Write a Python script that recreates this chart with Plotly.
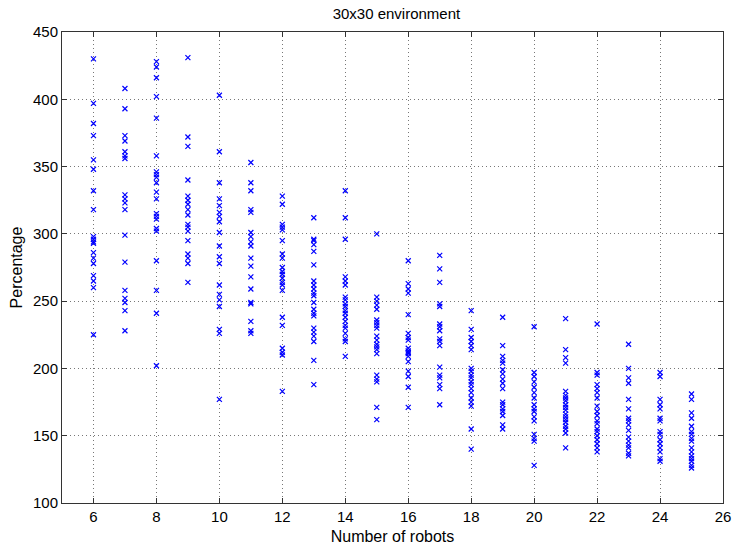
import plotly.graph_objects as go

robots = [6, 7, 8, 9, 10, 11, 12, 13, 14, 15, 16, 17, 18, 19, 20, 21, 22, 23, 24, 25]

pct_6 = [430, 397, 382, 373, 355, 348, 332, 318, 298, 296, 294, 293, 286, 282, 278, 269, 265, 260, 225]
pct_7 = [408, 393, 373, 369, 361, 358, 356, 329, 326, 323, 318, 299, 279, 258, 252, 249, 243, 228]
pct_8 = [428, 424, 416, 402, 386, 358, 346, 344, 342, 338, 331, 326, 315, 313, 311, 304, 302, 280, 258, 241, 202]
pct_9 = [431, 372, 365, 340, 328, 325, 322, 318, 314, 307, 305, 302, 295, 285, 282, 278, 264]
pct_10 = [403, 361, 338, 326, 321, 316, 313, 309, 301, 291, 283, 278, 262, 255, 251, 246, 229, 226, 177]
pct_11 = [353, 338, 332, 318, 316, 301, 298, 294, 291, 282, 276, 268, 259, 249, 248, 235, 228, 226]
pct_12 = [328, 322, 307, 305, 303, 295, 285, 282, 275, 272, 270, 267, 264, 262, 258, 238, 232, 215, 212, 210, 183]
pct_13 = [312, 296, 295, 292, 287, 277, 265, 262, 259, 256, 254, 249, 244, 241, 239, 230, 227, 224, 220, 206, 188]
pct_14 = [332, 312, 296, 268, 265, 262, 253, 251, 248, 246, 243, 241, 238, 235, 232, 230, 226, 222, 220, 209]
pct_15 = [300, 253, 250, 247, 244, 236, 234, 232, 230, 224, 221, 218, 216, 214, 211, 195, 192, 190, 171, 162]
pct_16 = [280, 263, 259, 256, 240, 226, 223, 221, 215, 213, 212, 211, 209, 205, 198, 194, 186, 171]
pct_17 = [284, 274, 264, 248, 246, 233, 231, 228, 222, 220, 217, 201, 195, 193, 188, 185, 173]
pct_18 = [243, 229, 223, 220, 217, 214, 200, 198, 195, 193, 190, 188, 185, 182, 178, 175, 172, 155, 140]
pct_19 = [238, 217, 209, 206, 204, 199, 196, 192, 189, 185, 175, 173, 170, 168, 165, 158, 155]
pct_20 = [231, 197, 194, 190, 186, 182, 178, 173, 170, 168, 164, 161, 151, 148, 146, 128]
pct_21 = [237, 214, 208, 204, 183, 180, 178, 176, 173, 171, 169, 166, 164, 162, 160, 157, 155, 152, 141]
pct_22 = [233, 197, 195, 188, 185, 182, 178, 172, 168, 165, 161, 159, 155, 153, 150, 147, 144, 141, 138]
pct_23 = [218, 200, 193, 189, 177, 170, 163, 161, 158, 154, 149, 146, 143, 141, 137, 135]
pct_24 = [197, 194, 177, 173, 170, 163, 161, 153, 151, 147, 144, 141, 138, 133, 131]
pct_25 = [181, 177, 167, 163, 157, 153, 151, 148, 146, 141, 138, 135, 133, 131, 128, 126]

all_pct = [pct_6, pct_7, pct_8, pct_9, pct_10, pct_11, pct_12, pct_13, pct_14, pct_15,
           pct_16, pct_17, pct_18, pct_19, pct_20, pct_21, pct_22, pct_23, pct_24, pct_25]

xs, ys = [], []
for r, vals in zip(robots, all_pct):
    xs += [r] * len(vals)
    ys += vals

fig = go.Figure()
fig.add_trace(go.Scatter(
    x=xs, y=ys, mode="markers",
    marker=dict(symbol="x-thin", size=5, color="blue",
                line=dict(color="blue", width=1.2)),
    showlegend=False,
))

font = dict(family="Liberation Sans, Arial, sans-serif", size=15, color="black")
axis_common = dict(
    showline=True, linecolor="#333333", linewidth=1, mirror="ticks",
    ticks="inside", ticklen=5, tickcolor="#333333", tickwidth=1,
    showgrid=True, gridcolor="#777777", griddash="1px,3px", gridwidth=1,
    zeroline=False, tickfont=font,
)

fig.update_layout(
    width=741, height=552,
    margin=dict(l=62, r=10, t=32, b=47),
    paper_bgcolor="white", plot_bgcolor="white",
    font=font,
    title=dict(text="30x30 environment", x=0.535, xanchor="center",
               y=0.985, yanchor="top", font=dict(size=15, color="black",
               family="Liberation Sans, Arial, sans-serif")),
    xaxis=dict(range=[5, 26], dtick=2, tick0=0,
               title=dict(text="Number of robots", standoff=6,
                          font=dict(size=16, color="black",
                                    family="Liberation Sans, Arial, sans-serif")),
               **axis_common),
    yaxis=dict(range=[100, 450], dtick=50,
               title=dict(text="Percentage", standoff=6,
                          font=dict(size=16, color="black",
                                    family="Liberation Sans, Arial, sans-serif")),
               **axis_common),
)

fig.write_html("out.html")
